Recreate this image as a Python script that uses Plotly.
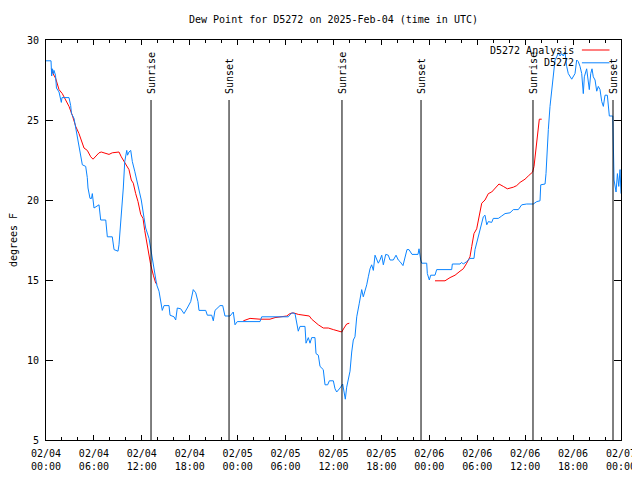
import pandas as pd
import plotly.graph_objects as go

start = pd.Timestamp("2025-02-04 00:00")

# Observed dew point (D5272): hours since start, degrees F
obs_hours = [0.0, 0.63, 0.71, 0.81, 0.94, 1.0, 1.19, 1.31, 1.63, 1.92, 2.0, 2.88, 3.09, 3.19, 3.51,
             3.79, 4.13, 4.55, 4.97, 5.17, 5.26, 5.51, 5.7, 5.8, 6.01, 6.64, 6.85, 7.48, 7.68, 8.3,
             8.52, 9.02, 9.14, 9.43, 9.68, 9.86, 10.11, 10.21, 10.39, 10.61, 10.81, 11.11, 11.43,
             11.65, 11.93, 12.27, 12.48, 12.9, 13.11, 13.31, 13.52, 13.86, 14.15, 14.36, 14.56,
             14.78, 15.4, 15.53, 16.03, 16.24, 16.44, 16.87, 17.28, 17.69, 18.12, 18.44, 18.75,
             19.03, 19.16, 20.0, 20.2, 20.75, 20.95, 21.16, 21.58, 21.79, 22.13, 22.41, 23.04,
             23.45, 23.67, 23.95, 26.8, 27.01, 30.34, 30.77, 31.18, 31.39, 31.59, 31.81, 32.43,
             32.56, 32.85, 33.06, 33.27, 33.68, 33.81, 34.1, 34.31, 34.72, 34.94, 35.27, 35.48,
             35.98, 36.19, 36.4, 36.6, 36.82, 37.15, 37.32, 37.48, 37.65, 37.85, 38.07, 38.28,
             38.48, 38.69, 38.91, 39.23, 39.53, 39.73, 39.94, 40.16, 40.36, 40.57, 40.78, 40.99,
             41.2, 41.41, 41.61, 41.82, 42.04, 42.24, 42.54, 42.86, 43.08, 43.49, 43.83, 44.11,
             44.33, 44.7, 45.2, 45.45, 45.83, 46.58, 46.71, 46.92, 47.05, 47.67, 47.75, 48.0,
             48.17, 48.71, 48.92, 50.8, 50.88, 51.84, 52.05, 52.25, 52.68, 53.09, 53.59, 53.72,
             53.93, 54.13, 54.35, 54.56, 54.76, 54.97, 55.19, 55.39, 55.81, 56.01, 56.64, 57.06,
             57.48, 58.1, 58.52, 59.14, 59.57, 60.19, 61.02, 61.45, 61.86, 61.95, 62.49, 62.61,
             62.7, 62.9, 63.11, 63.32, 63.53, 63.74, 63.95, 64.15, 64.37, 64.58, 64.78, 64.99,
             65.2, 65.4, 65.83, 66.03, 66.24, 66.45, 66.65, 66.87, 67.08, 67.28, 67.41, 67.7,
             67.91, 68.03, 68.21, 68.37, 68.53, 68.75, 68.96, 69.16, 69.37, 69.59, 69.79, 70.0,
             70.29, 70.54, 70.97, 71.04, 71.13, 71.38, 71.55, 71.72, 71.88, 72.0]
obs_values = [28.7, 28.7, 27.75, 28.2, 27.9, 28.1, 27.8, 27.0, 26.75, 26.1, 26.4, 26.4, 25.9, 25.4, 25.1,
              24.25, 23.4, 22.2, 22.1, 21.4, 20.75, 20.1, 20.1, 20.4, 19.5, 19.7, 18.75, 18.75, 17.7, 17.7,
              16.9, 16.8, 17.2, 18.9, 20.75, 22.4, 23.1, 22.8, 23.0, 23.1, 22.4, 21.8, 21.1,
              20.5, 20.0, 18.9, 18.25, 17.6, 17.0, 16.4, 15.75, 14.7, 14.3, 13.65, 13.1,
              13.4, 13.4, 12.8, 12.7, 12.5, 13.25, 13.2, 12.9, 13.25, 13.65, 14.4, 14.2,
              13.65, 13.1, 13.1, 12.8, 12.8, 12.45, 13.1, 13.3, 13.4, 13.4, 12.75, 12.75,
              13.0, 12.2, 12.4, 12.4, 12.7, 12.7, 12.95, 12.9, 12.3, 11.8, 12.1, 12.1,
              11.05, 11.4, 11.05, 11.4, 11.4, 10.4, 10.3, 9.6, 9.4, 8.45, 8.45, 8.7,
              8.7, 8.2, 8.0, 8.1, 8.25, 8.5, 8.1, 7.55, 8.3, 8.75, 9.3, 10.5,
              11.25, 11.45, 12.7, 13.55, 14.4, 13.95, 14.3, 14.7, 15.2, 15.7, 15.95, 15.6,
              16.55, 16.25, 16.05, 16.25, 16.55, 15.95, 16.6, 16.55, 16.25, 16.25, 16.55, 16.25,
              16.15, 15.9, 16.9, 16.9, 16.6, 16.6, 16.95, 16.25, 16.05, 16.05, 15.4, 15.0,
              15.3, 15.3, 15.65, 15.65, 16.0, 16.0, 16.1, 16.0, 16.15, 16.35, 16.35, 16.9,
              17.3, 17.7, 18.0, 18.55, 18.95, 19.05, 18.45, 18.65, 18.6, 18.85, 18.85, 19.0,
              19.15, 19.2, 19.4, 19.4, 19.7, 19.75, 19.75, 19.9, 19.95, 20.95, 21.0, 21.65,
              22.7, 24.4, 25.85, 26.9, 28.1, 28.75, 28.95, 29.2, 29.0, 29.15, 29.0, 29.25,
              28.35, 27.9, 27.55, 27.7, 27.9, 28.75, 28.65, 28.35, 27.9, 26.65, 27.7, 28.2,
              27.3, 26.9, 27.9, 28.2, 27.7, 27.5, 26.8, 27.1, 26.9, 26.15, 25.85, 26.55,
              26.55, 25.25, 25.25, 23.65, 21.25, 20.5, 21.65, 20.85, 21.9, 20.4]

# Analysis dew point (D5272 Analysis): segments separated by None
ana_hours = [0.66, 0.88, 1.21, 1.63, 2.04, 2.47, 2.88, 3.29, 3.72, 4.13, 4.55, 4.76, 5.17, 5.6,
             5.89, 6.22, 6.64, 6.92, 7.48, 7.89, 8.3, 8.85, 9.14, 9.43, 9.77, 10.11, 10.39,
             10.68, 10.93, 11.23, 11.52, 11.86, 12.15, 12.36, 12.61, 12.9, 13.11, 13.44, 13.74,
             13.94, None,
             24.71, 25.55, 26.8, 28.05, 28.68, 29.3, 30.14, 30.55, 30.97, 31.59, 32.43, 32.97,
             33.27, 33.68, 34.1, 34.72, 35.35, 35.98, 36.6, 37.03, 37.32, 37.65, 37.98, None,
             48.71, 49.96, 50.59, 51.22, 51.84, 52.25, 52.68, 53.09, 53.31, 53.59, 53.93, 54.26,
             54.56, 54.97, 55.39, 55.81, 56.22, 56.72, 57.26, 57.77, 58.52, 58.94, 59.36, 59.98,
             60.39, 60.94, 61.11, 61.23, 61.45, 61.65, 61.77, 62.07]
ana_values = [28.2, 27.9, 27.6, 26.9, 26.65, 26.25, 25.85, 25.3, 24.6, 24.15, 23.55, 23.25, 23.1, 22.7,
              22.55, 22.7, 22.95, 23.0, 22.9, 22.85, 22.95, 23.0, 23.0, 22.7, 22.4, 22.1, 21.9,
              21.25, 21.05, 20.4, 19.9, 19.1, 18.85, 18.1, 17.4, 16.55, 15.95, 15.3, 14.8,
              14.75, None,
              12.45, 12.6, 12.55, 12.55, 12.65, 12.7, 12.75, 12.9, 12.95, 12.85, 12.8, 12.75,
              12.55, 12.35, 12.2, 12.0, 12.0, 11.9, 11.8, 11.75, 12.0, 12.25, 12.3, None,
              14.95, 14.95, 15.15, 15.3, 15.55, 15.7, 16.05, 16.45, 17.1, 17.9, 18.2, 18.95,
              19.8, 20.0, 20.4, 20.5, 20.7, 21.0, 20.85, 20.7, 20.8, 20.9, 21.1, 21.3,
              21.5, 21.75, 22.1, 22.6, 23.75, 24.5, 25.05, 25.05]

# Sun events (hours since start)
sun_labels = ["Sunrise", "Sunset", "Sunrise", "Sunset", "Sunrise", "Sunset"]
sun_hours = [13.15, 22.92, 37.06, 46.96, 60.98, 71.0]

tick_hours = [0, 6, 12, 18, 24, 30, 36, 42, 48, 54, 60, 66, 72]
y_ticks = [5, 10, 15, 20, 25, 30]

series_names = ["D5272 Analysis", "D5272"]
series_colors = ["#ff0000", "#0a84ff"]


def to_time(hours):
    return [None if h is None else start + pd.Timedelta(hours=h) for h in hours]


FONT = "DejaVu Sans Mono"
# the page body adds an 8px margin, so the figure is sized to fit inside 640x480
FIG_W, FIG_H = 632, 472

fig = go.Figure()
fig.add_trace(go.Scatter(x=to_time(ana_hours), y=ana_values, mode="lines", name=series_names[0],
                         line=dict(color=series_colors[0], width=1), connectgaps=False,
                         showlegend=False))
fig.add_trace(go.Scatter(x=to_time(obs_hours), y=obs_values, mode="lines", name=series_names[1],
                         line=dict(color=series_colors[1], width=1), showlegend=False))

shapes = []
annotations = []
for lab, h in zip(sun_labels, sun_hours):
    t = start + pd.Timedelta(hours=h)
    shapes.append(dict(type="line", xref="x", yref="paper", x0=t, x1=t, y0=0, y1=0.85,
                       line=dict(color="black", width=1)))
    annotations.append(dict(text=lab, x=t, xref="x", y=0.85, yref="paper", textangle=-90,
                            showarrow=False, xanchor="center", yanchor="bottom", yshift=4,
                            font=dict(family=FONT, size=10, color="black")))

# gnuplot-style key (text right, sample line after it)
key_rows = [0.975, 0.943]
for name, color, ky in zip(series_names, series_colors, key_rows):
    annotations.append(dict(text=name, x=0.922, xref="paper", y=ky, yref="paper", showarrow=False,
                            xanchor="right", yanchor="middle",
                            font=dict(family=FONT, size=10, color="black")))
    shapes.append(dict(type="line", xref="paper", yref="paper", x0=0.932, x1=0.98, y0=ky, y1=ky,
                       line=dict(color=color, width=1)))

tick_vals = [start + pd.Timedelta(hours=h) for h in tick_hours]
tick_text = [f"{t.month:02d}/{t.day:02d}<br>{t.hour:02d}:{t.minute:02d}" for t in tick_vals]

fig.update_layout(
    width=FIG_W, height=FIG_H, autosize=False,
    margin=dict(l=38, r=19, t=32, b=40),
    paper_bgcolor="white", plot_bgcolor="white",
    font=dict(family=FONT, size=10, color="black"),
    title=dict(text="Dew Point for D5272 on 2025-Feb-04 (time in UTC)", x=0.5, xref="paper",
               xanchor="center", y=1 - 11 / FIG_H, yanchor="middle",
               font=dict(family=FONT, size=10, color="black")),
    shapes=shapes, annotations=annotations,
    showlegend=False,
)
fig.update_xaxes(
    type="date", range=[tick_vals[0], tick_vals[-1]], automargin=False,
    tickvals=tick_vals, ticktext=tick_text, ticklabelstandoff=4,
    ticks="inside", ticklen=5, tickwidth=1, tickcolor="black",
    minor=dict(dtick=2 * 3600 * 1000, tick0=tick_vals[0], ticks="inside", ticklen=3,
               tickcolor="black", showgrid=False),
    showline=True, linecolor="black", linewidth=1, mirror="allticks",
    showgrid=False, zeroline=False,
    tickfont=dict(family=FONT, size=10, color="black"),
)
fig.update_yaxes(
    range=[5, 30], tickvals=y_ticks, automargin=False,
    ticks="inside", ticklen=7, tickwidth=1, tickcolor="black",
    showline=True, linecolor="black", linewidth=1, mirror="allticks",
    showgrid=False, zeroline=False, ticklabelstandoff=4,
    title=dict(text="degrees F", standoff=10, font=dict(family=FONT, size=10, color="black")),
    tickfont=dict(family=FONT, size=10, color="black"),
)

fig.write_html("out.html")
